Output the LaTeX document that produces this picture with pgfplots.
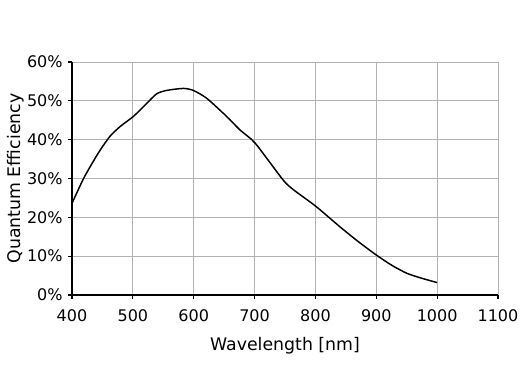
\documentclass[border=0pt]{standalone}
\usepackage{fontspec}
\setmainfont{DejaVu Sans}
\usepackage{pgfplots}
\pgfplotsset{compat=1.18}
\begin{document}
\begin{tikzpicture}
\begin{axis}[
  scale only axis,
  width=319.5pt, height=174.75pt,
  xmin=400, xmax=1100, ymin=0, ymax=60,
  xtick={400,500,...,1100},
  ytick={0,10,...,60},
  yticklabel={\pgfmathprintnumber{\tick}\%},
  /pgf/number format/assume math mode=true,
  /pgf/number format/1000 sep={},
  axis x line*=bottom, axis y line*=left,
  axis line style={black, line width=0.8pt, -},
  grid=major,
  grid style={black!30, line width=0.7pt},
  tick align=outside,
  major tick length=3pt,
  tick style={black, line width=0.8pt},
  ticklabel style={font=\fontsize{12}{14}\selectfont},
  xticklabel style={yshift=-4.5pt},
  yticklabel style={xshift=-0.5pt},
  xlabel={Wavelength [nm]},
  ylabel={Quantum Efficiency},
  label style={font=\fontsize{13}{15}\selectfont},
  xlabel style={at={(axis description cs:0.5,-0.239)}, anchor=base},
  ylabel style={at={(axis description cs:-0.122,0.5)}, anchor=base, rotate=0},
]
\addplot[black, line width=1.1pt, smooth, tension=0.4] coordinates {
(400,23.6) (420,30.3) (443,36.5) (462,40.8) (480,43.5) (501,46.0) (520,48.9)
(539,51.8) (556,52.7) (583,53.2) (599,52.7) (621,50.7) (654,46.0) (676,42.5)
(701,39.1) (747,29.6) (764,27.1) (801,22.8) (840,17.6) (870,13.8) (900,10.3)
(925,7.7) (950,5.6) (975,4.3) (1000,3.2)
};
\end{axis}
\pgfresetboundingbox
\useasboundingbox (-54pt,-71.25pt) rectangle (336pt,221.25pt);
\end{tikzpicture}
\end{document}
